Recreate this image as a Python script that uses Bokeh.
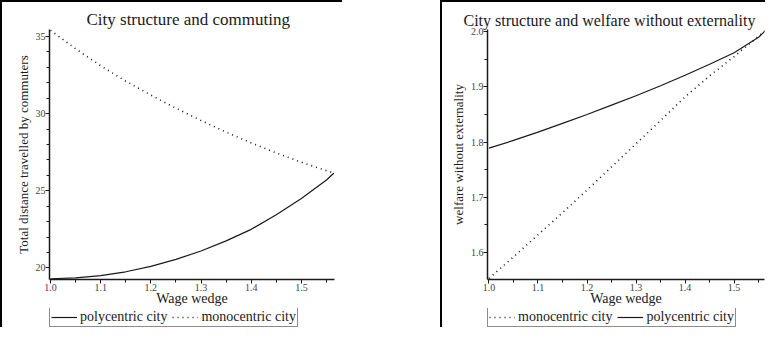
from bokeh.plotting import figure
from bokeh.layouts import row, column
from bokeh.models import Legend, LegendItem, FixedTicker, Range1d, PrintfTickFormatter
from bokeh.embed import file_html
from bokeh.resources import INLINE

# ---- data ----
wage_wedge = [1.0, 1.05, 1.1, 1.15, 1.2, 1.25, 1.3, 1.35, 1.4, 1.45, 1.5, 1.55, 1.565]

dist_poly = [19.3, 19.35, 19.5, 19.75, 20.1, 20.55, 21.1, 21.75, 22.5, 23.45, 24.5, 25.7, 26.15]
dist_mono = [35.4, 34.2, 33.1, 32.1, 31.2, 30.35, 29.55, 28.8, 28.1, 27.45, 26.85, 26.3, 26.15]

welf_mono = [1.553, 1.592, 1.632, 1.672, 1.713, 1.755, 1.797, 1.839, 1.882, 1.92, 1.955, 1.992, 2.003]
welf_poly = [1.789, 1.803, 1.818, 1.834, 1.850, 1.867, 1.884, 1.902, 1.921, 1.941, 1.962, 1.990, 2.003]

x_ticks = [1.0, 1.1, 1.2, 1.3, 1.4, 1.5]
x_minor = [1.05, 1.15, 1.25, 1.35, 1.45, 1.55]
dist_ticks = [20, 25, 30, 35]
dist_minor = list(range(20, 36))
welf_ticks = [1.6, 1.7, 1.8, 1.9, 2.0]
welf_minor = [1.55, 1.65, 1.75, 1.85, 1.95]

SERIF = "Liberation Serif"
INK = "#1a1a1a"
SOLID = dict(line_color=INK, line_width=1.2)
DOTTED = dict(line_color=INK, line_width=1.6, line_dash="1 4")


def style(p, title, title_offset, title_size, ylabel, yticks, yminor, yfmt):
    p.title.text = title
    p.title.text_font = SERIF
    p.title.text_font_size = title_size
    p.title.text_font_style = "normal"
    p.title.text_color = INK
    p.title.align = "left"
    p.title.offset = title_offset
    p.title.standoff = 2
    p.grid.visible = False
    p.outline_line_color = None
    p.border_fill_color = None
    p.min_border_top = 29
    p.min_border_bottom = 20
    for ax in (p.xaxis[0], p.yaxis[0]):
        ax.axis_line_color = INK
        ax.axis_line_width = 1.5
        ax.major_tick_line_color = INK
        ax.minor_tick_line_color = INK
        ax.major_tick_in = 0
        ax.major_tick_out = 4
        ax.minor_tick_in = 0
        ax.minor_tick_out = 3
        ax.major_label_text_font = SERIF
        ax.major_label_text_font_size = "10px"
        ax.major_label_text_color = "#444444"
        ax.major_label_standoff = 0
        ax.axis_label_text_font = SERIF
        ax.axis_label_text_font_style = "normal"
        ax.axis_label_text_color = INK
    p.xaxis[0].axis_label_standoff = -3
    p.yaxis[0].axis_label_standoff = 2
    p.xaxis[0].ticker = FixedTicker(ticks=x_ticks, minor_ticks=x_minor)
    p.xaxis[0].formatter = PrintfTickFormatter(format="%.1f")
    p.xaxis[0].axis_label = "Wage wedge"
    p.xaxis[0].axis_label_text_font_size = "14px"
    p.yaxis[0].ticker = FixedTicker(ticks=yticks, minor_ticks=yminor)
    p.yaxis[0].formatter = PrintfTickFormatter(format=yfmt)
    p.yaxis[0].axis_label = ylabel
    p.yaxis[0].axis_label_text_font_size = "13px"
    p.styles = {"box-shadow": "inset 2px 2px 0 0 #000"}


def legend_strip(width, entries, x_off):
    # small strip under the plot that only carries the legend; its series sit
    # outside the strip's visible range so only the legend keys show
    lf = figure(width=width, height=19, output_backend="svg", toolbar_location=None,
                x_range=Range1d(10, 11), y_range=Range1d(0, 1),
                x_axis_location=None, y_axis_location=None,
                min_border_left=x_off, min_border_right=0,
                min_border_top=0, min_border_bottom=0)
    lf.grid.visible = False
    lf.outline_line_color = None
    lf.border_fill_color = None
    lf.styles = {"box-shadow": "inset 2px 0 0 0 #000"}
    items = []
    for label, xs, ys, st in entries:
        r = lf.line(xs, ys, **st)
        items.append(LegendItem(label=label, renderers=[r]))
    lg = Legend(items=items, location="bottom_left", orientation="horizontal")
    lg.label_text_font = SERIF
    lg.label_text_font_size = "14px"
    lg.label_text_color = INK
    lg.border_line_color = INK
    lg.border_line_width = 1
    lg.padding = 1
    lg.margin = 0
    lg.spacing = 5
    lg.glyph_width = 26
    lg.glyph_height = 14
    lg.label_standoff = 3
    lg.label_height = 14
    lf.add_layout(lg, "center")
    return lf


# ---- left panel ----
p1 = figure(width=342, height=308, output_backend="svg", toolbar_location=None,
            x_range=Range1d(0.998, 1.566), y_range=Range1d(19.25, 35.45),
            min_border_left=40, min_border_right=8)
style(p1, "City structure and commuting", 37, "17px", "Total distance travelled by commuters",
      dist_ticks, dist_minor, "%d")
p1.line(wage_wedge, dist_poly, **SOLID)
p1.line(wage_wedge, dist_mono, **DOTTED)
l1 = legend_strip(342, [("polycentric city", wage_wedge, dist_poly, SOLID),
                        ("monocentric city", wage_wedge, dist_mono, DOTTED)], 49)

# ---- right panel ----
p2 = figure(width=325, height=308, output_backend="svg", toolbar_location=None,
            x_range=Range1d(0.997, 1.562), y_range=Range1d(1.551, 2.004),
            min_border_left=42, min_border_right=1)
style(p2, "City structure and welfare without externality", -24, "16px", "welfare without externality",
      welf_ticks, welf_minor, "%.1f")
p2.line(wage_wedge, welf_mono, **DOTTED)
p2.line(wage_wedge, welf_poly, **SOLID)
l2 = legend_strip(325, [("monocentric city", wage_wedge, welf_mono, DOTTED),
                        ("polycentric city", wage_wedge, welf_poly, SOLID)], 47)

layout = row(column(p1, l1, spacing=0), column(p2, l2, spacing=0), spacing=98)
open("out.html", "w").write(file_html(layout, INLINE))
